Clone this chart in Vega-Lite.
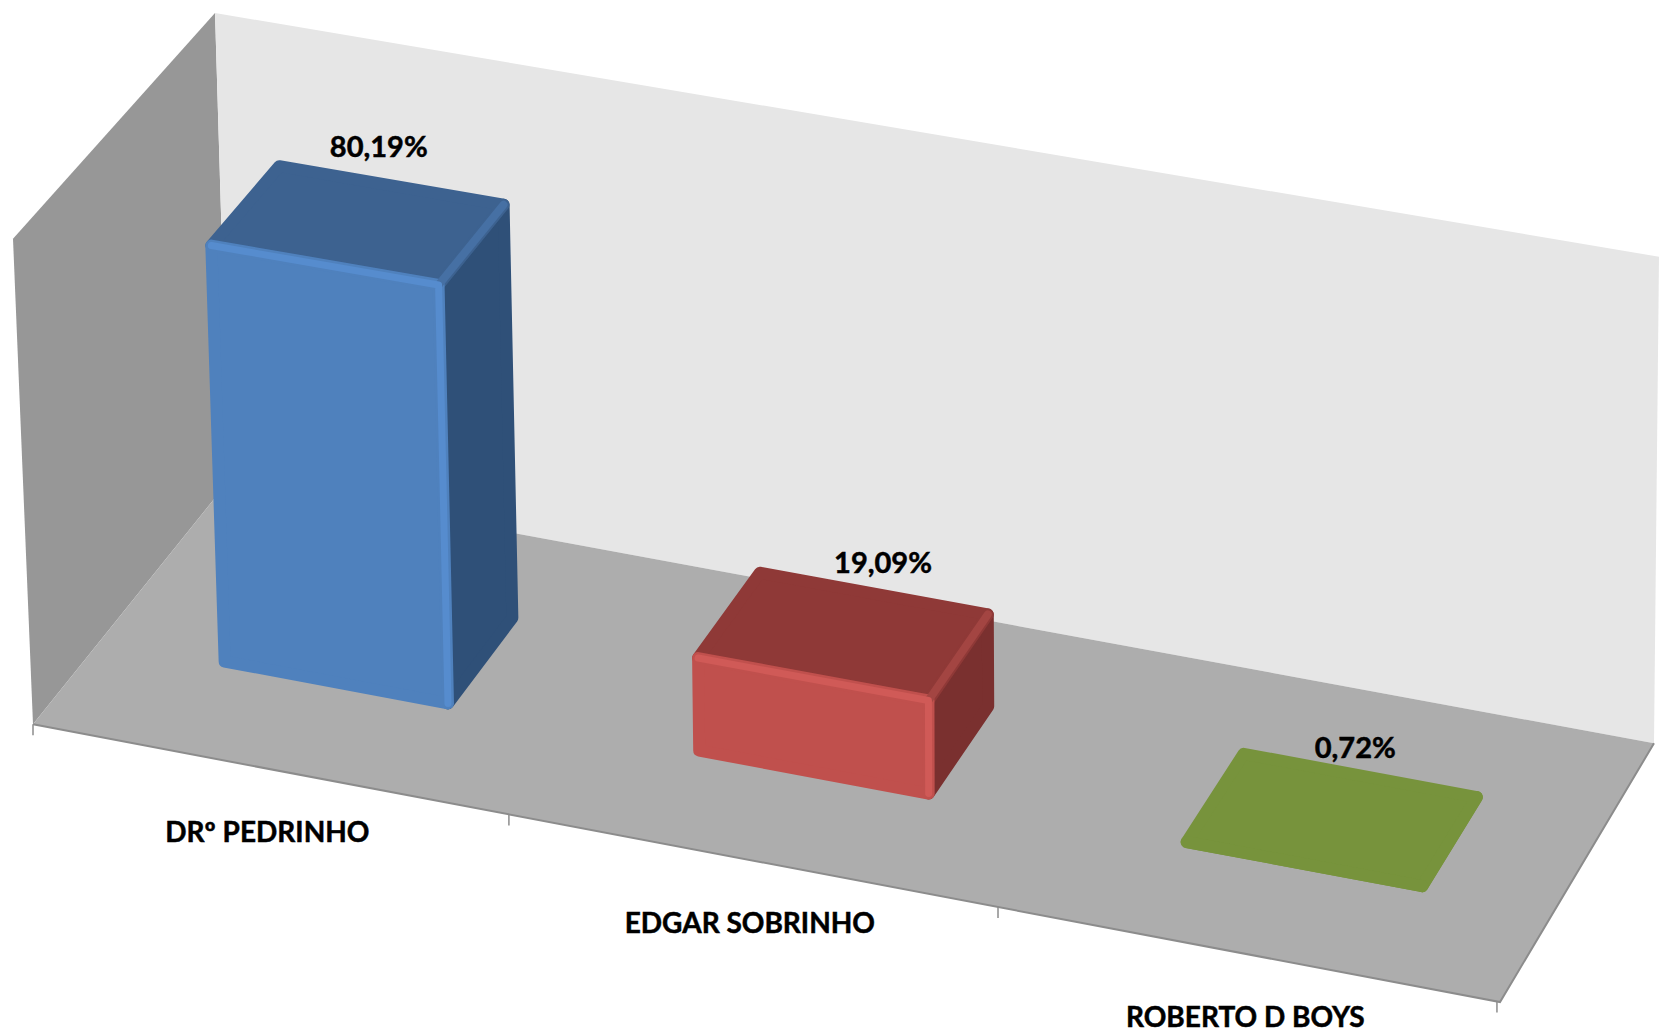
{
"$schema":"https://vega.github.io/schema/vega-lite/v6.json",
"width":1659,"height":1034,"padding":0,"autosize":{"type":"fit","contains":"padding"},
"background":"white","view":{"stroke":null},
"config":{"axis":{"disable":true}},
"resolve":{"scale":{"fill":"independent","stroke":"independent"}},
"datasets":{
"bars":[
{"candidato":"DRº PEDRINHO","votos":80.19,"rotulo":"80,19%"},
{"candidato":"EDGAR SOBRINHO","votos":19.09,"rotulo":"19,09%"},
{"candidato":"ROBERTO D BOYS","votos":0.72,"rotulo":"0,72%"}
],
"frame":[
{"plane":"left","corner":0,"t":0,"d":0,"w":1},{"plane":"left","corner":1,"t":0,"d":1,"w":1},{"plane":"left","corner":2,"t":0,"d":1,"w":0},{"plane":"left","corner":3,"t":0,"d":0,"w":0},
{"plane":"back","corner":0,"t":0,"d":1,"w":1},{"plane":"back","corner":1,"t":1,"d":1,"w":1},{"plane":"back","corner":2,"t":1,"d":1,"w":0},{"plane":"back","corner":3,"t":0,"d":1,"w":0},
{"plane":"floor","corner":0,"t":0,"d":0,"w":0},{"plane":"floor","corner":1,"t":1,"d":0,"w":0},{"plane":"floor","corner":2,"t":1,"d":1,"w":0},{"plane":"floor","corner":3,"t":0,"d":1,"w":0}
],
"ticks":[{"t":0,"d":0,"w":0},{"t":0.3333,"d":0,"w":0},{"t":0.6667,"d":0,"w":0},{"t":0.998,"d":0,"w":0}]
},
"encoding":{
"x":{"field":"px","type":"quantitative","scale":{"domain":[0,1659],"nice":false,"zero":false},"axis":null},
"y":{"field":"py","type":"quantitative","scale":{"domain":[1034,0],"nice":false,"zero":false},"axis":null}
},
"layer":[
{"data":{"name":"frame"},
"transform":[
{"calculate":"datum.t*(0.96+0.04*datum.t)","as":"u"},
{"calculate":"(1-datum.d)*(33+datum.u*1467)+datum.d*(229+datum.u*1425)+datum.w*((1-datum.d)*(-20*(1-datum.u)+15*datum.u)+datum.d*(-14*(1-datum.u)+5*datum.u))","as":"px"},
{"calculate":"(1-datum.d)*(725+datum.u*278)+datum.d*(481+datum.u*263)-datum.w*(486-18*datum.d+19*datum.u)","as":"py"}
],
"mark":{"type":"line","filled":true,"interpolate":"linear-closed","clip":true,"strokeWidth":0},
"encoding":{
"order":{"field":"corner","type":"quantitative"},
"fill":{"field":"plane","type":"nominal","scale":{"domain":["left","back","floor"],"range":["#979797","#E6E6E6","#ADADAD"]},"legend":null}
}},
{"data":{"name":"frame"},
"transform":[
{"filter":"datum.plane=='floor'&&datum.corner<3"},
{"calculate":"datum.t*(0.96+0.04*datum.t)","as":"u"},
{"calculate":"(1-datum.d)*(33+datum.u*1467)+datum.d*(229+datum.u*1425)","as":"px"},
{"calculate":"(1-datum.d)*(725+datum.u*278)+datum.d*(481+datum.u*263)","as":"py"}
],
"mark":{"type":"line","stroke":"#8C8C8C","strokeWidth":2},
"encoding":{"order":{"field":"corner","type":"quantitative"}}},
{"data":{"name":"ticks"},
"transform":[
{"calculate":"datum.t*(0.96+0.04*datum.t)","as":"u"},
{"calculate":"33+datum.u*1467","as":"px"},
{"calculate":"725+datum.u*278","as":"py"},
{"calculate":"datum.py+11","as":"py2"}
],
"mark":{"type":"rule","stroke":"#8C8C8C","strokeWidth":1.5},
"encoding":{"y2":{"field":"py2"}}},
{"data":{"name":"bars"},
"transform":[
{"window":[{"op":"row_number","as":"n"}]},
{"calculate":"['side','top','front']","as":"face"},{"flatten":["face"]},
{"calculate":"[0,1,2,3]","as":"corner"},{"flatten":["corner"]},
{"calculate":"(datum.n-0.5)/3","as":"tc"},
{"calculate":"datum.face=='side'||datum.corner==1||datum.corner==2?datum.tc+0.079:datum.tc-0.079","as":"t"},
{"calculate":"datum.face=='front'?0.352:(datum.face=='side'?(datum.corner==1||datum.corner==2?0.698:0.352):(datum.corner>=2?0.698:0.352))","as":"d"},
{"calculate":"datum.face=='top'||datum.corner>=2?max(0,datum.votos-1.9)/90.5:0","as":"w"},
{"calculate":"datum.t*(0.96+0.04*datum.t)","as":"u"},
{"calculate":"(1-datum.d)*(33+datum.u*1467)+datum.d*(229+datum.u*1425)+datum.w*((1-datum.d)*(-20*(1-datum.u)+15*datum.u)+datum.d*(-14*(1-datum.u)+5*datum.u))","as":"px"},
{"calculate":"(1-datum.d)*(725+datum.u*278)+datum.d*(481+datum.u*263)-datum.w*(486-18*datum.d+19*datum.u)","as":"py"},
{"calculate":"datum.candidato+' '+datum.face","as":"part"}
],
"mark":{"type":"line","filled":true,"interpolate":"linear-closed","strokeWidth":12,"strokeJoin":"round"},
"encoding":{
"order":{"field":"corner","type":"quantitative"},
"fill":{"field":"part","type":"nominal","scale":{"domain":["DRº PEDRINHO top","DRº PEDRINHO side","DRº PEDRINHO front","EDGAR SOBRINHO top","EDGAR SOBRINHO side","EDGAR SOBRINHO front","ROBERTO D BOYS top","ROBERTO D BOYS side","ROBERTO D BOYS front"],"range":["#3D6290","#2F5078","#4F81BD","#8F3937","#7A302F","#C0504D","#77933C","#77933C","#77933C"]},"legend":null},
"stroke":{"field":"part","type":"nominal","scale":{"domain":["DRº PEDRINHO top","DRº PEDRINHO side","DRº PEDRINHO front","EDGAR SOBRINHO top","EDGAR SOBRINHO side","EDGAR SOBRINHO front","ROBERTO D BOYS top","ROBERTO D BOYS side","ROBERTO D BOYS front"],"range":["#3D6290","#2F5078","#4F81BD","#8F3937","#7A302F","#C0504D","#77933C","#77933C","#77933C"]},"legend":null}
}},
{"data":{"name":"bars"},
"transform":[
{"filter":"datum.votos>5"},
{"window":[{"op":"row_number","as":"n"}]},
{"calculate":"[0,1]","as":"corner"},{"flatten":["corner"]},
{"calculate":"(datum.n-0.5)/3+0.079","as":"t"},
{"calculate":"datum.corner==0?0.352:0.698","as":"d"},
{"calculate":"max(0,datum.votos-1.9)/90.5","as":"w"},
{"calculate":"datum.t*(0.96+0.04*datum.t)","as":"u"},
{"calculate":"(1-datum.d)*(33+datum.u*1467)+datum.d*(229+datum.u*1425)+datum.w*((1-datum.d)*(-20*(1-datum.u)+15*datum.u)+datum.d*(-14*(1-datum.u)+5*datum.u))","as":"px"},
{"calculate":"(1-datum.d)*(725+datum.u*278)+datum.d*(481+datum.u*263)-datum.w*(486-18*datum.d+19*datum.u)","as":"py"}
],
"mark":{"type":"line","strokeWidth":8,"strokeCap":"round"},
"encoding":{
"order":{"field":"corner","type":"quantitative"},
"stroke":{"field":"candidato","type":"nominal","scale":{"domain":["DRº PEDRINHO","EDGAR SOBRINHO"],"range":["#4670A4","#A34542"]},"legend":null}
}},
{"data":{"name":"bars"},
"transform":[
{"filter":"datum.votos>5"},
{"window":[{"op":"row_number","as":"n"}]},
{"calculate":"[0,1,2]","as":"corner"},{"flatten":["corner"]},
{"calculate":"(datum.n-0.5)/3","as":"tc"},
{"calculate":"datum.corner==0?datum.tc-0.079:datum.tc+0.079","as":"t"},
{"calculate":"0.352","as":"d"},
{"calculate":"datum.corner==2?0:max(0,datum.votos-1.9)/90.5","as":"w"},
{"calculate":"datum.t*(0.96+0.04*datum.t)","as":"u"},
{"calculate":"(1-datum.d)*(33+datum.u*1467)+datum.d*(229+datum.u*1425)+datum.w*((1-datum.d)*(-20*(1-datum.u)+15*datum.u)+datum.d*(-14*(1-datum.u)+5*datum.u))","as":"px"},
{"calculate":"(1-datum.d)*(725+datum.u*278)+datum.d*(481+datum.u*263)-datum.w*(486-18*datum.d+19*datum.u)","as":"py"}
],
"mark":{"type":"line","strokeWidth":7,"strokeJoin":"round","strokeCap":"round"},
"encoding":{
"order":{"field":"corner","type":"quantitative"},
"stroke":{"field":"candidato","type":"nominal","scale":{"domain":["DRº PEDRINHO","EDGAR SOBRINHO"],"range":["#568CCE","#D05A57"]},"legend":null}
}},
{"data":{"name":"bars"},
"transform":[
{"window":[{"op":"row_number","as":"n"}]},
{"calculate":"(datum.n-0.5)/3","as":"t"},
{"calculate":"0.72","as":"d"},
{"calculate":"datum.votos/92","as":"w"},
{"calculate":"datum.t*(0.96+0.04*datum.t)","as":"u"},
{"calculate":"(1-datum.d)*(33+datum.u*1467)+datum.d*(229+datum.u*1425)+datum.w*((1-datum.d)*(-20*(1-datum.u)+15*datum.u)+datum.d*(-14*(1-datum.u)+5*datum.u))-datum.w*24-9+120*datum.w*(1-datum.w)","as":"px"},
{"calculate":"(1-datum.d)*(725+datum.u*278)+datum.d*(481+datum.u*263)-datum.w*(486-18*datum.d+19*datum.u)-datum.w*18+30*datum.w*(1-datum.w)","as":"py"}
],
"mark":{"type":"text","font":"Lato","fontWeight":"bold","fontSize":29,"color":"#000000","stroke":"#000000","strokeWidth":0.5,"dy":-17},
"encoding":{"text":{"field":"rotulo"}}},
{"data":{"name":"bars"},
"transform":[
{"window":[{"op":"row_number","as":"n"}]},
{"calculate":"(datum.n-0.5)/3","as":"t"},
{"calculate":"datum.t*(0.96+0.04*datum.t)","as":"u"},
{"calculate":"31+datum.u*1467","as":"px"},
{"calculate":"725+datum.u*278","as":"py"}
],
"mark":{"type":"text","font":"Lato","fontWeight":"bold","fontSize":28,"color":"#000000","stroke":"#000000","strokeWidth":0.5,"dy":65},
"encoding":{"text":{"field":"candidato"}}}
]
}
